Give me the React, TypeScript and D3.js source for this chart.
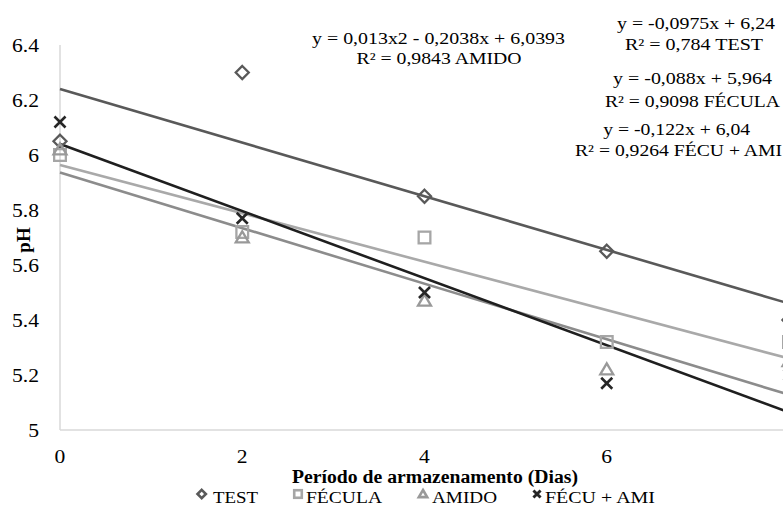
import React from "react";
import * as d3 from "d3";

const days = [0, 2, 4, 6, 8];
const testVals = [6.05, 6.3, 5.85, 5.65, 5.4];
const feculaVals = [6.0, 5.72, 5.7, 5.32, 5.32];
const amidoVals = [6.02, 5.7, 5.47, 5.22, 5.25];
const fecuAmiVals = [6.12, 5.77, 5.5, 5.17, 5.2];

const seriesNames = ["TEST", "FÉCULA", "AMIDO", "FÉCU + AMI"];
const seriesColors = ["#595959", "#a9a9a9", "#8c8c8c", "#1f1f1f"];
const markerColors = ["#595959", "#a6a6a6", "#999999", "#262626"];
const xTicks = [0, 2, 4, 6];
const yTicks = [5, 5.2, 5.4, 5.6, 5.8, 6, 6.2, 6.4];

const equationLines = [
  "y = 0,013x2 - 0,2038x + 6,0393",
  "R² = 0,9843 AMIDO",
  "y = -0,0975x + 6,24",
  "R² = 0,784 TEST",
  "y = -0,088x + 5,964",
  "R² = 0,9098 FÉCULA",
  "y = -0,122x + 6,04",
  "R² = 0,9264 FÉCU + AMI",
];

const allSeries = [testVals, feculaVals, amidoVals, fecuAmiVals];

function linFit(xs: number[], ys: number[]) {
  const mx = d3.mean(xs)!;
  const my = d3.mean(ys)!;
  let num = 0, den = 0;
  xs.forEach((x, i) => {
    num += (x - mx) * (ys[i] - my);
    den += (x - mx) * (x - mx);
  });
  const b = num / den;
  return { b, a: my - b * mx };
}

const FONT = "Liberation Serif, Times New Roman, serif";

function T(props: {
  x: number; y: number; anchor?: string; size: number; bold?: boolean;
  len?: number; sx?: number; children: React.ReactNode;
}) {
  const { x, y, anchor = "middle", size, bold, len, sx = 1.15, children } = props;
  if (len) {
    return (
      <text x={x} y={y} textAnchor={anchor} fontSize={size} fontFamily={FONT}
        fontWeight={bold ? "bold" : "normal"} fill="#000" textLength={len}
        lengthAdjust="spacingAndGlyphs">
        {children}
      </text>
    );
  }
  return (
    <text transform={`translate(${x},${y}) scale(${sx},1)`} textAnchor={anchor} fontSize={size} fontFamily={FONT}
      fontWeight={bold ? "bold" : "normal"} fill="#000">
      {children}
    </text>
  );
}

function Marker({ kind, x, y, s, color, sw }: { kind: number; x: number; y: number; s: number; color: string; sw: number }) {
  if (kind === 0) {
    const h = s;
    return <path d={`M${x},${y - h}L${x + h},${y}L${x},${y + h}L${x - h},${y}Z`} fill="none" stroke={color} strokeWidth={sw} />;
  }
  if (kind === 1) {
    const h = s * 0.9;
    return <rect x={x - h} y={y - h} width={2 * h} height={2 * h} fill="none" stroke={color} strokeWidth={sw} />;
  }
  if (kind === 2) {
    const h = s;
    return <path d={`M${x},${y - h * 0.95}L${x + h},${y + h * 0.75}L${x - h},${y + h * 0.75}Z`} fill="none" stroke={color} strokeWidth={sw} />;
  }
  const h = s * 0.85;
  return <path d={`M${x - h},${y - h}L${x + h},${y + h}M${x - h},${y + h}L${x + h},${y - h}`} fill="none" stroke={color} strokeWidth={sw + 0.3} />;
}

export default function App() {
  const W = 783, H = 508;
  const x = d3.scaleLinear().domain([0, 8]).range([60, 789]);
  const y = d3.scaleLinear().domain([5, 6.4]).range([430, 45]);
  const line = d3.line<[number, number]>().x((d) => x(d[0])).y((d) => y(d[1]));

  const fits = allSeries.map((vals) => linFit(days, vals));

  const legendX = [201.7, 298, 423, 537];
  const legendTextX = [213, 306, 432, 545];
  const legendLen = [45, 76, 65, 110];

  const eqPos: [number, number, string, number][] = [
    [438.5, 43.5, "middle", 253],
    [439, 63.5, "middle", 165],
    [696, 28.5, "middle", 158],
    [694, 50, "middle", 138],
    [692.5, 83.5, "middle", 159],
    [692.5, 106.5, "middle", 175],
    [676.7, 135, "middle", 147],
    [575, 156, "start", 207],
  ];

  return (
    <svg width={W} height={H} style={{ position: "absolute", left: 0, top: 0, background: "#fff" }}>
      <rect x={0} y={0} width={W} height={H} fill="#fff" />
      <line x1={x(0)} x2={x(0)} y1={y(6.4)} y2={y(5)} stroke="#d9d9d9" strokeWidth={1.5} />
      <line x1={x(0)} x2={W} y1={y(5)} y2={y(5)} stroke="#d9d9d9" strokeWidth={1.5} />
      {yTicks.map((t) => (
        <T key={t} x={39} y={y(t) + 6.5} anchor="end" size={18} sx={1.2}>
          {String(+t.toFixed(1))}
        </T>
      ))}
      {xTicks.map((t) => (
        <T key={t} x={x(t)} y={463} size={18} sx={1.2}>{t}</T>
      ))}
      {fits.map((f, i) => (
        <path key={i}
          d={line([[0, f.a], [8, f.a + f.b * 8]]) || ""}
          fill="none" stroke={seriesColors[i]} strokeWidth={2.6} />
      ))}
      {allSeries.map((vals, si) =>
        vals.map((v, i) => (
          <Marker key={si + "-" + i} kind={si} x={x(days[i])} y={y(v)} s={6.5} color={markerColors[si]} sw={2.3} />
        ))
      )}
      {equationLines.map((txt, i) => (
        <T key={i} x={eqPos[i][0]} y={eqPos[i][1]} anchor={eqPos[i][2]} size={16.5} len={eqPos[i][3]}>
          {txt}
        </T>
      ))}
      <T x={435} y={483} size={18} bold len={286}>Período de armazenamento (Dias)</T>
      <text transform={`translate(30,240) rotate(-90)`} textAnchor="middle" fontSize={19}
        fontWeight="bold" fontFamily={FONT} fill="#000">pH</text>
      {seriesNames.map((n, i) => (
        <g key={n}>
          <Marker kind={i} x={legendX[i]} y={494} s={4.2} color={markerColors[i]} sw={2.6} />
          <T x={legendTextX[i]} y={503} anchor="start" size={17} len={legendLen[i]}>{n}</T>
        </g>
      ))}
    </svg>
  );
}
